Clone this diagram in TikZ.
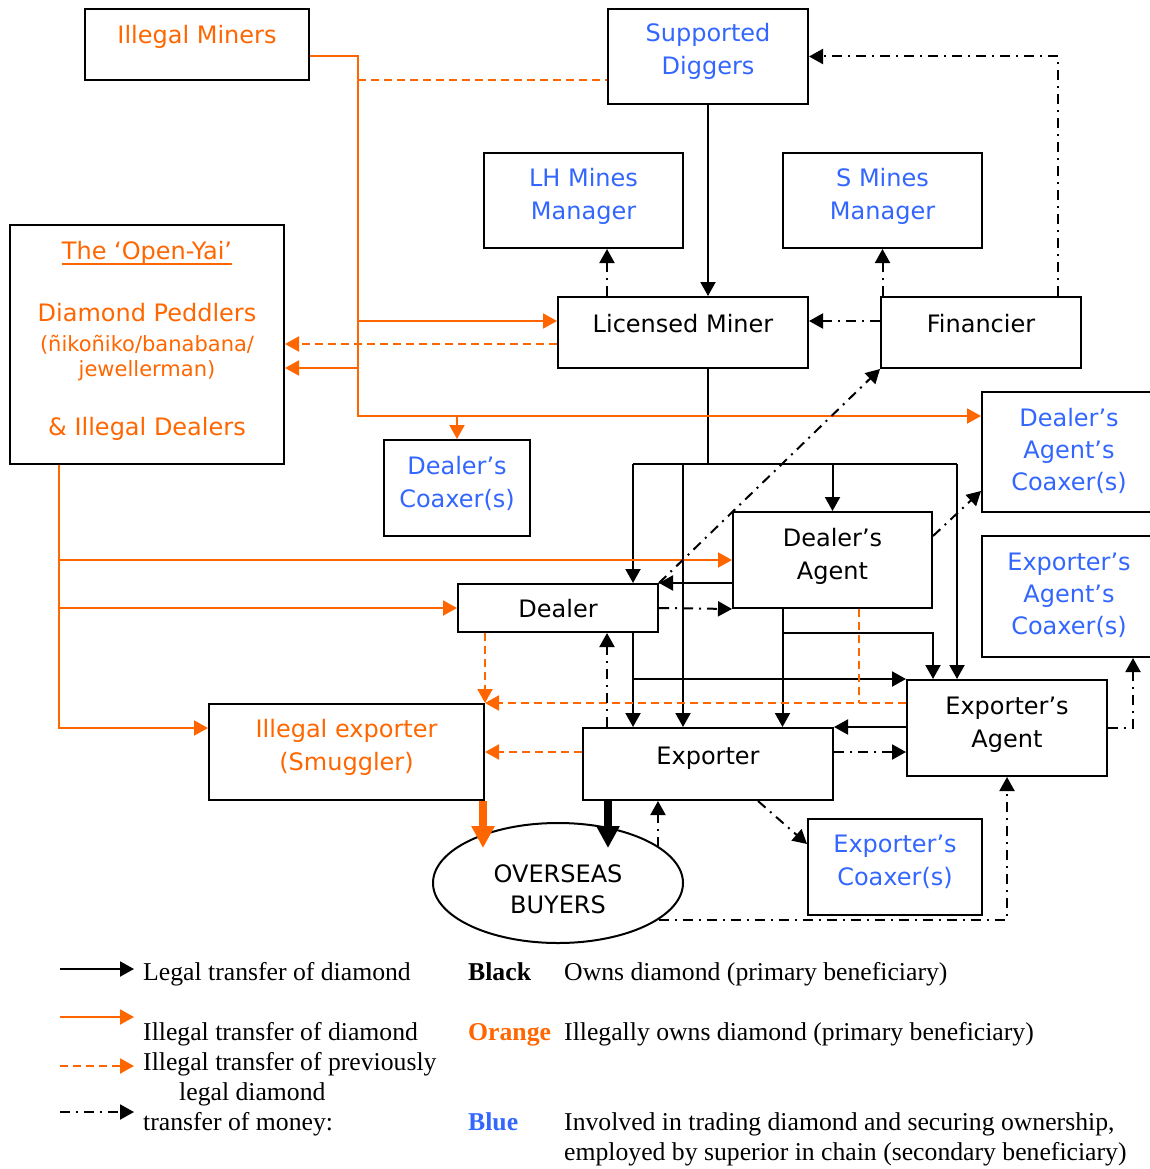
\documentclass[tikz,border=0pt]{standalone}
\usepackage{fontspec}
\setmainfont{Liberation Serif}
\newfontfamily\diafont{DejaVu Sans}
\usetikzlibrary{arrows.meta, calc, shapes.geometric}
\definecolor{illegalorange}{HTML}{FF6600}
\definecolor{roleblue}{HTML}{3366FF}
\tikzset{
x=1pt, y=-1pt,
>={Triangle[width=15pt,length=14pt]},
actor/.style={draw, line width=2pt, inner sep=0pt},
lbl/.style={anchor=base, align=center, inner sep=0pt, font=\diafont\fontsize{24}{33}\selectfont},
legal/.style={->, line width=2pt},
illegal/.style={->, line width=2pt, color=illegalorange},
prevlegal/.style={illegal, dash pattern=on 8pt off 5pt},
money/.style={->, line width=2pt, dash pattern=on 10pt off 6pt on 2pt off 6pt},
bigflow/.style={-{Triangle[width=22pt,length=22pt]}, line width=8pt},
keytext/.style={anchor=base west, align=left, inner sep=0pt, font=\fontsize{25.7}{30}\selectfont},
keybold/.style={keytext, font=\fontsize{25.7}{30}\selectfont\bfseries},
}

\begin{document}
\begin{tikzpicture}
    \useasboundingbox (0,0) rectangle (1149,1169);

    % Actors in the chain
    \node[actor, minimum width=224, minimum height=71] (im) at (197,44.5) {};
    \node[actor, minimum width=200, minimum height=95] (sd) at (708,56.5) {};
    \node[actor, minimum width=199, minimum height=95] (lh) at (583.5,200.5) {};
    \node[actor, minimum width=199, minimum height=95] (sm) at (882.5,200.5) {};
    \node[actor, minimum width=274, minimum height=239] (oy) at (147,344.5) {};
    \node[actor, minimum width=250, minimum height=71] (lm) at (683,332.5) {};
    \node[actor, minimum width=200, minimum height=71] (fin) at (981,332.5) {};
    \node[actor, minimum width=174, minimum height=120] (dac) at (1069,452) {};
    \node[actor, minimum width=174, minimum height=121] (eac) at (1069,596.5) {};
    \node[actor, minimum width=146, minimum height=96] (dc) at (457,488) {};
    \node[actor, minimum width=199, minimum height=96] (da) at (832.5,560) {};
    \node[actor, minimum width=200, minimum height=48] (dl) at (558,608) {};
    \node[actor, minimum width=200, minimum height=96] (ea) at (1007,728) {};
    \node[actor, minimum width=275, minimum height=96] (ie) at (346.5,752) {};
    \node[actor, minimum width=250, minimum height=72] (ex) at (708,764) {};
    \node[actor, minimum width=174, minimum height=96] (ec) at (895,867) {};
    \node[actor, ellipse, minimum width=250, minimum height=120] (ob) at (558,883) {};

    % Names (base = last line)
    \node[lbl, text=illegalorange] at ([yshift=-36]im.north) {Illegal Miners};
    \node[lbl, text=roleblue] at ([yshift=-67]sd.north) {Supported\\Diggers};
    \node[lbl, text=roleblue] at ([yshift=-67]lh.north) {LH Mines\\Manager};
    \node[lbl, text=roleblue] at ([yshift=-67]sm.north) {S Mines\\Manager};
    \node[lbl, text=illegalorange] (oyTitle) at (oy.north |- 0,259) {The ‘Open-Yai’};
    \draw[illegalorange, line width=2.5pt] ([yshift=-5]oyTitle.base west) -- ([yshift=-5]oyTitle.base east);
    \node[lbl, text=illegalorange] at (oy.north |- 0,321) {Diamond Peddlers};
    \node[lbl, text=illegalorange, font=\diafont\fontsize{21}{25}\selectfont] at (oy.north |- 0,376) {(ñikoñiko/banabana/\\jewellerman)};
    \node[lbl, text=illegalorange] at (oy.north |- 0,435) {\& Illegal Dealers};
    \node[lbl] at ([yshift=-36]lm.north) {Licensed Miner};
    \node[lbl] at ([yshift=-36]fin.north) {Financier};
    \node[lbl, text=roleblue, font=\diafont\fontsize{24}{32}\selectfont] at ([yshift=-99]dac.north) {Dealer’s\\Agent’s\\Coaxer(s)};
    \node[lbl, text=roleblue, font=\diafont\fontsize{24}{32}\selectfont] at ([yshift=-99]eac.north) {Exporter’s\\Agent’s\\Coaxer(s)};
    \node[lbl, text=roleblue] at ([yshift=-68]dc.north) {Dealer’s\\Coaxer(s)};
    \node[lbl] at ([yshift=-68]da.north) {Dealer’s\\Agent};
    \node[lbl] at ([yshift=-34]dl.north) {Dealer};
    \node[lbl] at ([yshift=-68]ea.north) {Exporter’s\\Agent};
    \node[lbl, text=illegalorange] at ([yshift=-67]ie.north) {Illegal exporter\\(Smuggler)};
    \node[lbl] at ([yshift=-37]ex.north) {Exporter};
    \node[lbl, text=roleblue] at ([yshift=-67]ec.north) {Exporter’s\\Coaxer(s)};
    \node[lbl, font=\diafont\fontsize{24}{31}\selectfont] at (ob.center |- 0,913) {OVERSEAS\\BUYERS};

    % Legal transfer of diamond
    \coordinate (hubL) at (633,464);
    \coordinate (hubM) at (683,464);
    \coordinate (hubR) at (957,464);
    \coordinate (daOut) at ([xshift=-50]da.south);
    \draw[legal] (sd.south) -- (sd.south |- lm.north);
    \draw[line width=2pt] (sd.south |- lm.south) -- (sd.south |- hubL);
    \draw[line width=2pt] (hubL) -- (hubR);
    \draw[legal] (hubL) -- (hubL |- dl.north);
    \draw[legal] (hubM) -- (hubM |- ex.north);
    \draw[legal] (da.north |- hubL) -- (da.north);
    \draw[legal] (hubR) -- (hubR |- ea.north);
    \draw[legal] (da.west |- dl.north) -- (dl.north east);
    \draw[legal] (daOut) -- (daOut |- ex.north);
    \draw[legal] (daOut |- dl.south) -| (da.east |- ea.north);
    \draw[legal] (hubL |- dl.south) -- (hubL |- ex.north);
    \draw[legal] (hubL |- ea.north) -- (ea.north west);
    \draw[legal] (ea.west |- ex.north) -- (ex.north east);
    \draw[bigflow] ([xshift=-100]ex.south) -- ++(0,47);

    % Illegal transfer of diamond
    \coordinate (imTrunk) at (358,56);
    \coordinate (imEnd) at (358,416);
    \coordinate (oyOut) at ([xshift=50]oy.south west);
    \draw[illegal] (im.east |- imTrunk) -- (imTrunk) -- (imEnd) -- (dac.west |- imEnd);
    \draw[illegal] (imTrunk |- 0,321) -- (lm.west |- 0,321);
    \draw[illegal] (imTrunk |- 0,368) -- (oy.east |- 0,368);
    \draw[illegal] (dc.north |- imEnd) -- (dc.north);
    \draw[illegal] (oyOut) -- (oyOut |- 0,728) -- (ie.west |- 0,728);
    \draw[illegal] (oyOut |- da.west) -- (da.west);
    \draw[illegal] (oyOut |- dl.west) -- (dl.west);
    \draw[bigflow, color=illegalorange] ([xshift=-2]ie.south east) -- ++(0,47);

    % Illegal transfer of previously legal diamond
    \coordinate (daLeak) at ([xshift=-74]da.south east);
    \draw[prevlegal, -] (imTrunk |- 0,80) -- (sd.west |- 0,80);
    \draw[prevlegal] (lm.west |- 0,344) -- (oy.east |- 0,344);
    \draw[prevlegal] (ie.north east |- dl.south) -- (ie.north east);
    \draw[prevlegal] (ea.west |- ie.north east) -- (ie.north east);
    \draw[prevlegal, -] (daLeak) -- (daLeak |- ie.north east);
    \draw[prevlegal] (ex.west |- ie.east) -- (ie.east);

    % Transfer of money
    \coordinate (finUp) at ([xshift=-24]fin.north east);
    \coordinate (lmUp) at ([xshift=50]lm.north west);
    \coordinate (exUp) at ([xshift=25]ex.north west);
    \coordinate (obUp) at ([xshift=-50]ex.south);
    \draw[money] (finUp) |- (sd.east);
    \draw[money] (fin.west |- 0,321) -- (lm.east |- 0,321);
    \draw[money] (sm.south |- fin.north) -- (sm.south);
    \draw[money] (lmUp) -- (lmUp |- lh.south);
    \draw[money] (dl.north east) -- (fin.south west);
    \draw[money] (dl.east) -- (da.south west);
    \draw[money] ([yshift=24]da.east) -- ([yshift=22]dac.south west);
    \draw[money] (exUp) -- (exUp |- dl.south);
    \draw[money] (ex.east |- ie.east) -- (ea.west |- ie.east);
    \draw[money] (ea.east) -| ([xshift=-24]eac.south east);
    \draw[money] ([xshift=50]ex.south) -- ([yshift=-26]ec.north west);
    \draw[money] (obUp |- 0,847) -- (obUp);
    \draw[money] (ob.-20.7) -| (ea.south);

    % Key
    \node[keytext] (legLegal) at (143,980) {Legal transfer of diamond};
    \node[keytext] (legIllegal) at (143,1040) {Illegal transfer of diamond};
    \node[keytext] (legPrev) at (143,1070) {Illegal transfer of previously};
    \node[keytext] (legPrevB) at (179,1100) {legal diamond};
    \node[keytext] (legMoney) at (143,1130) {transfer of money:};
    \draw[legal] ($(legLegal.base west)+(-83,-11)$) -- ++(74,0);
    \draw[illegal] ($(legIllegal.base west)+(-83,-23)$) -- ++(74,0);
    \draw[prevlegal] ($(legPrev.base west)+(-83,-4)$) -- ++(74,0);
    \draw[money] ($(legMoney.base west)+(-83,-18)$) -- ++(74,0);

    \node[keybold] (keyBlack) at (468,980) {Black};
    \node[keybold, text=illegalorange] (keyOrange) at (468,1040) {Orange};
    \node[keybold, text=roleblue] (keyBlue) at (468,1130) {Blue};
    \node[keytext] (descBlack) at (564,980) {Owns diamond (primary beneficiary)};
    \node[keytext] (descOrange) at (564,1040) {Illegally owns diamond (primary beneficiary)};
    \node[keytext] (descBlue) at (564,1160) {Involved in trading diamond and securing ownership,\\employed by superior in chain (secondary beneficiary)};
\end{tikzpicture}
\end{document}
